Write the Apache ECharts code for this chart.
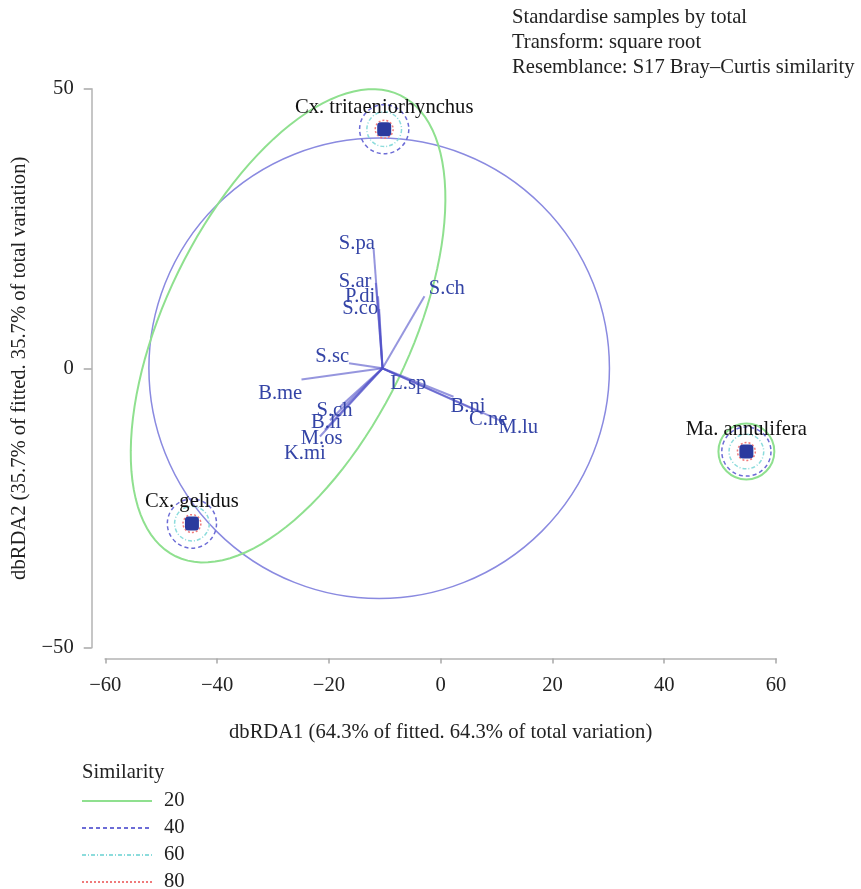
<!DOCTYPE html>
<html>
<head>
<meta charset="utf-8">
<script src="https://cdn.jsdelivr.net/npm/echarts@6/dist/echarts.min.js"></script>
<style>
  html, body { margin: 0; padding: 0; background: #fff; }
  #chart { width: 861px; height: 889px; }
</style>
</head>
<body>
<div id="chart"></div>
<script>
// samples on dbRDA1 / dbRDA2
const sampleNames = ['Cx. tritaeniorhynchus', 'Cx. gelidus', 'Ma. annulifera'];
const sampleX = [-10.1, -44.5, 54.7];
const sampleY = [42.8, -27.8, -14.9];

// species vectors (tip of each line) and where the names sit
const vectorNames = ['S.pa', 'S.ar', 'P.di', 'S.co', 'S.ch', 'S.sc', 'B.me', 'L.sp', 'B.ni', 'C.ne', 'M.lu', 'S.ch', 'B.li', 'M.os', 'K.mi'];
const vectorX = [-12.0, -11.6, -11.2, -11.0, -2.9, -16.4, -24.9, -7.6, 2.3, 7.6, 11.2, -18.0, -19.8, -20.7, -21.6];
const vectorY = [21.4, 15.3, 12.9, 10.6, 12.9, 0.9, -2.0, -1.3, -5.1, -8.1, -9.6, -6.9, -9.3, -11.0, -12.2];
const labelX = [-15.0, -15.3, -14.4, -14.4, 1.1, -19.4, -28.7, -5.8, 4.9, 8.5, 13.9, -19.0, -20.5, -21.3, -24.3];
const labelY = [22.3, 15.5, 12.8, 10.6, 14.2, 2.1, -4.5, -2.7, -6.9, -9.1, -10.7, -7.6, -9.8, -12.5, -15.2];
const vectorOrigin = [-10.4, 0];

// correlation circle
const circleCenter = [-11, 0];
const circleRadius = 41.2;

// similarity overlay
const similarityLevels = ['20', '40', '60', '80'];
const ringRadius = [5.0, 4.4, 3.1, 1.6];          // per level, data units
const ringSamples = [[2], [0, 1, 2], [0, 1, 2], [0, 1, 2]];  // which samples get a ring
const clusterCenter = [-27.3, 7.6];               // 20% group of the two Culex
const clusterAxes = [45.9, 21.9];
const clusterAngle = 64;

// axes
const xTicks = { min: -60, max: 60, interval: 20 };
const yTicks = { min: -50, max: 50, interval: 50 };

const FONT = "'Liberation Serif', 'DejaVu Serif', serif";
const FS = 20.6;
const levelStyle = [
  { stroke: '#8fe08f', lineWidth: 2, lineDash: null },
  { stroke: '#6c6cd6', lineWidth: 1.5, lineDash: [4, 3] },
  { stroke: '#8cdcdc', lineWidth: 1.5, lineDash: [4, 2, 1, 2] },
  { stroke: '#f07a7a', lineWidth: 1.5, lineDash: [2, 2] }
];

const chart = echarts.init(document.getElementById('chart'));

function minus(v) {
  return String(v).replace('-', '\u2212');
}

const ringSeries = similarityLevels.map(function (lvl, i) {
  return {
    name: lvl,
    type: 'custom',
    z: 4,
    silent: true,
    data: ringSamples[i].map(function (k) { return [sampleX[k], sampleY[k], ringRadius[i]]; }),
    renderItem: function (params, api) {
      const c = api.coord([api.value(0), api.value(1)]);
      const r = api.size([api.value(2), 0])[0];
      return {
        type: 'circle',
        shape: { cx: c[0], cy: c[1], r: r },
        style: { fill: 'none', stroke: levelStyle[i].stroke, lineWidth: levelStyle[i].lineWidth, lineDash: levelStyle[i].lineDash }
      };
    }
  };
});

const legendGraphic = [{
  type: 'text', x: 82, y: 773,
  style: { text: 'Similarity', fontFamily: FONT, fontSize: FS, fill: '#222', verticalAlign: 'middle' }
}];
similarityLevels.forEach(function (lvl, i) {
  const y = 801 + i * 27;
  legendGraphic.push({
    type: 'line',
    shape: { x1: 82, y1: y, x2: 152, y2: y },
    style: { stroke: levelStyle[i].stroke, lineWidth: 2, lineDash: levelStyle[i].lineDash }
  });
  legendGraphic.push({
    type: 'text', x: 164, y: y,
    style: { text: lvl, fontFamily: FONT, fontSize: FS, fill: '#222', verticalAlign: 'middle' }
  });
});
['Standardise samples by total', 'Transform: square root', 'Resemblance: S17 Bray\u2013Curtis similarity'].forEach(function (t, i) {
  legendGraphic.push({
    type: 'text', x: 512, y: 18 + i * 25,
    style: { text: t, fontFamily: FONT, fontSize: FS, fill: '#222', verticalAlign: 'middle' }
  });
});

const option = {
  animation: false,
  grid: { left: 105.3, right: 85, top: 89, bottom: 241.4 },
  xAxis: {
    type: 'value',
    min: xTicks.min, max: xTicks.max, interval: xTicks.interval,
    offset: 11,
    splitLine: { show: false },
    axisLine: { onZero: false, lineStyle: { color: '#c6c6c6', width: 2 } },
    axisTick: { length: 5, lineStyle: { color: '#a8a8a8', width: 1.5 } },
    axisLabel: { margin: 16, color: '#222', fontFamily: FONT, fontSize: FS, formatter: minus },
    name: 'dbRDA1 (64.3% of fitted. 64.3% of total variation)',
    nameLocation: 'middle',
    nameGap: 63,
    nameTextStyle: { color: '#222', fontFamily: FONT, fontSize: FS }
  },
  yAxis: {
    type: 'value',
    min: yTicks.min, max: yTicks.max, interval: yTicks.interval,
    offset: 13.6,
    splitLine: { show: false },
    axisLine: { onZero: false, lineStyle: { color: '#c6c6c6', width: 2 } },
    axisTick: { length: 8, lineStyle: { color: '#a8a8a8', width: 1.5 } },
    axisLabel: { margin: 18, color: '#222', fontFamily: FONT, fontSize: FS, formatter: minus },
    name: 'dbRDA2 (35.7% of fitted. 35.7% of total variation)',
    nameLocation: 'middle',
    nameGap: 60,
    nameTextStyle: { color: '#222', fontFamily: FONT, fontSize: FS }
  },
  graphic: legendGraphic,
  series: [
    {
      // correlation circle
      type: 'custom',
      z: 1,
      silent: true,
      data: [[circleCenter[0], circleCenter[1], circleRadius]],
      renderItem: function (params, api) {
        const c = api.coord([api.value(0), api.value(1)]);
        const r = api.size([api.value(2), 0])[0];
        return {
          type: 'circle',
          shape: { cx: c[0], cy: c[1], r: r },
          style: { fill: 'none', stroke: '#8a8ae0', lineWidth: 1.5 }
        };
      }
    },
    {
      // 20% similarity group around both Culex samples
      type: 'custom',
      z: 2,
      silent: true,
      data: [[clusterCenter[0], clusterCenter[1], clusterAxes[0], clusterAxes[1], clusterAngle]],
      renderItem: function (params, api) {
        const a = api.value(2), b = api.value(3);
        const th = api.value(4) * Math.PI / 180;
        const pts = [];
        for (let k = 0; k < 120; k++) {
          const t = k / 120 * Math.PI * 2;
          const dx = a * Math.cos(t) * Math.cos(th) - b * Math.sin(t) * Math.sin(th);
          const dy = a * Math.cos(t) * Math.sin(th) + b * Math.sin(t) * Math.cos(th);
          pts.push(api.coord([api.value(0) + dx, api.value(1) + dy]));
        }
        return {
          type: 'polygon',
          shape: { points: pts },
          style: { fill: 'none', stroke: levelStyle[0].stroke, lineWidth: levelStyle[0].lineWidth }
        };
      }
    },
    {
      // species vectors
      type: 'custom',
      z: 3,
      silent: true,
      data: vectorNames.map(function (n, i) { return [vectorX[i], vectorY[i]]; }),
      renderItem: function (params, api) {
        const o = api.coord(vectorOrigin);
        const e = api.coord([api.value(0), api.value(1)]);
        return {
          type: 'line',
          shape: { x1: o[0], y1: o[1], x2: e[0], y2: e[1] },
          style: { stroke: 'rgba(80, 80, 200, 0.6)', lineWidth: 2 }
        };
      }
    },
    {
      // species names
      type: 'scatter',
      z: 5,
      silent: true,
      symbolSize: 0,
      itemStyle: { opacity: 1 },
      data: vectorNames.map(function (n, i) { return { name: n, value: [labelX[i], labelY[i]] }; }),
      label: {
        show: true, position: 'inside', formatter: '{b}',
        color: '#3444a6', fontFamily: FONT, fontSize: FS
      }
    }
  ].concat(ringSeries).concat([
    {
      type: 'scatter',
      z: 6,
      symbol: 'roundRect',
      symbolSize: 14,
      itemStyle: { color: '#2b3a9e', opacity: 1 },
      data: sampleNames.map(function (n, i) { return { name: n, value: [sampleX[i], sampleY[i]] }; }),
      label: {
        show: true, position: 'top', distance: 4, formatter: '{b}',
        color: '#111', fontFamily: FONT, fontSize: FS
      }
    }
  ])
};

chart.setOption(option);
</script>
</body>
</html>
